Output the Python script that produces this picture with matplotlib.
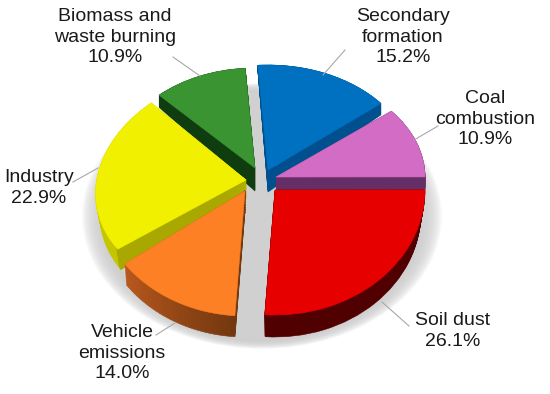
#!/usr/bin/env python3
"""Exploded 3D-look pie of source contributions."""
import numpy as np
import matplotlib
matplotlib.use("Agg")
import matplotlib.pyplot as plt
from matplotlib.colors import to_rgb
from matplotlib.patches import Ellipse, Wedge
from matplotlib.transforms import Affine2D

plt.rcParams["font.family"] = ["Liberation Sans", "DejaVu Sans"]

sources = ["Secondary\nformation", "Coal\ncombustion", "Soil dust",
           "Vehicle\nemissions", "Industry", "Biomass and\nwaste burning"]
shares = [15.2, 10.9, 26.1, 14.0, 22.9, 10.9]
colors = ["#0070c0", "#d26cc4", "#e60000", "#fd8024", "#f0f000", "#3a9432"]
cut_colors = ["#00508f", "#662e66", "#500000", None, "#a8a800", "#0f3d0f"]
rim_from = [None, None, None, "#b8581e", "#d4d400", None]  # clockwise end of arc
rim_to = [None, None, None, "#74380f", "#c4c400", None]

# per slice placement in pixels: apex x, apex y, x radius, y radius, depth,
# x radius and y radius of underside, skew x, skew y
place = [
    (268, 170, 146, 105, 22, 146, 122, 0, 0),
    (276, 177, 149, 104, 13, 149, 104, 0, 0),
    (275, 190, 150, 125, 22, 146, 125, 0, 0),
    (245, 191, 148, 125, 21, 146, 125, 0, 0),
    (246, 180, 150, 111, 18, 146, 115, 11, 5.5),
    (255, 168, 140, 100, 23, 140, 115, 0, 0),
]
draw_order = [5, 0, 1, 4, 3, 2]

label_xy = [(403, 37), (485, 119), (453, 331), (122, 353), (39, 188), (115, 37)]
leaders = [
    ((345, 50), (323, 75)),
    ((438, 126), (414, 140)),
    ((409, 326), (382, 302)),
    ((156, 335), (175, 323)),
    ((73, 182), (98, 168)),
    ((173, 57), (200, 76)),
]

START = 94

fig = plt.figure(figsize=(5.5, 3.94), dpi=100)
ax = fig.add_axes([0, 0, 1, 1])
ax.set_xlim(0, 550)
ax.set_ylim(394, 0)
ax.axis("off")

# soft floor shadow
for grow in np.linspace(22, 0, 23):
    ax.add_patch(Ellipse((262, 216), 2 * (158 + grow), 2 * (124 + grow * 0.4),
                         fc="#cccccc", ec="none", alpha=0.09, zorder=1))
ax.add_patch(Ellipse((262, 216), 2 * 158, 2 * 124, fc="#d0d0d0", ec="none", zorder=1))

ends = START - np.cumsum(shares) * 3.6
starts = np.r_[START, ends[:-1]]


def wedge_at(cx, cy, rx, ry, t1, t2, color, z, sx=0, sy=0):
    tr = Affine2D.from_values(rx, -sy, sx, -ry, cx, cy) + ax.transData
    ax.add_patch(Wedge((0, 0), 1, t1, t2, fc=color, ec=color, lw=0.4, zorder=z, transform=tr))


def sweep(i, t1, t2, color, z, n=24):
    cx, cy, rx, ry, depth, rx_low, ry_low, sx, sy = place[i]
    for f in np.linspace(1, 0, n):
        wedge_at(cx, cy + depth * f, rx + (rx_low - rx) * f, ry + (ry_low - ry) * f,
                 t1, t2, color, z, sx, sy)


z = 2
for i in draw_order:
    cx, cy, rx, ry = place[i][:4]
    sx, sy = place[i][7:]
    t1, t2 = ends[i], starts[i]
    if rim_from[i]:
        c0, c1 = np.array(to_rgb(rim_from[i])), np.array(to_rgb(rim_to[i]))
        edges = np.linspace(t1, t2, 31)
        for k in range(30):
            sweep(i, edges[k], edges[k + 1], tuple(c0 + (c1 - c0) * k / 29), z, n=14)
        if cut_colors[i]:
            sweep(i, t2 - 1, t2, cut_colors[i], z)
    else:
        sweep(i, t1, t2, cut_colors[i], z)
    wedge_at(cx, cy, rx, ry, t1, t2, colors[i], z + 1, sx, sy)
    z += 2

for (x0, y0), (x1, y1) in leaders:
    ax.plot([x0, x1], [y0, y1], color="#a8a8a8", lw=0.8, zorder=30)

for name, share, (x, y) in zip(sources, shares, label_xy):
    ax.text(x, y, f"{name}\n{share:.1f}%", ha="center", va="center", fontsize=14,
            color="#1a1a1a", linespacing=1.29, zorder=31)

fig.savefig("out.png", dpi=100)
